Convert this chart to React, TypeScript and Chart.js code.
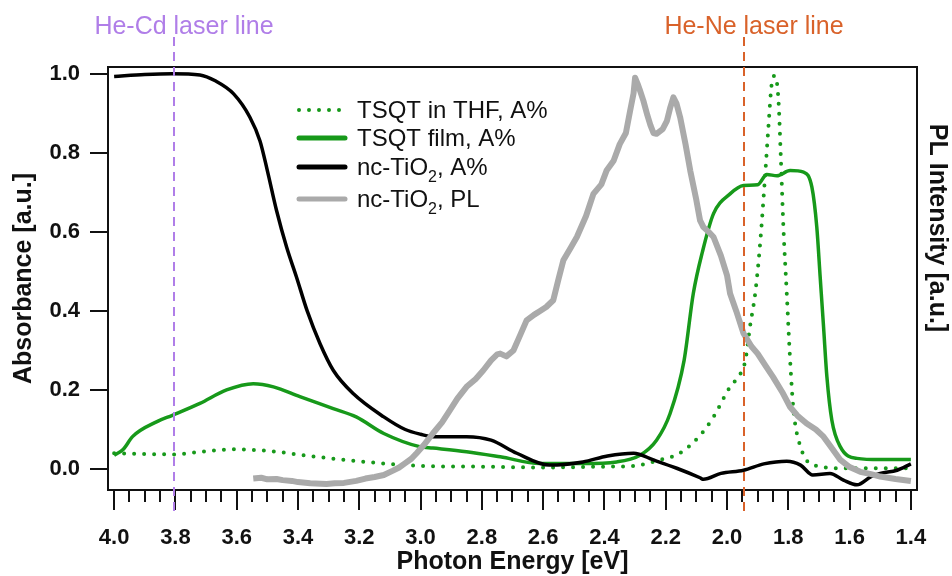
import { useEffect, useRef } from "react";
import { Chart, registerables } from "chart.js";

Chart.register(...registerables);

const FONT = "'Liberation Sans', Arial, Helvetica, sans-serif";

// Axis ticks
const xTickValues = [4.0, 3.8, 3.6, 3.4, 3.2, 3.0, 2.8, 2.6, 2.4, 2.2, 2.0, 1.8, 1.6, 1.4];
const yTickValues = [0.0, 0.2, 0.4, 0.6, 0.8, 1.0];

// Laser lines (eV)
const heCdLine = 3.805;
const heNeLine = 1.944;

// nc-TiO2 absorbance
const tio2AbsE = [4.0, 3.9, 3.81, 3.72, 3.67, 3.61, 3.557, 3.524, 3.5, 3.47, 3.437, 3.405, 3.37, 3.328, 3.285, 3.22, 3.12, 3.05, 3.0, 2.96, 2.85, 2.77, 2.686, 2.58, 2.47, 2.39, 2.305, 2.24, 2.164, 2.088, 2.077, 2.02, 1.946, 1.88, 1.805, 1.76, 1.72, 1.664, 1.62, 1.576, 1.53, 1.5, 1.445, 1.4];
const tio2AbsV = [0.993, 0.998, 1.0, 0.997, 0.982, 0.949, 0.89, 0.83, 0.755, 0.654, 0.561, 0.486, 0.4, 0.317, 0.25, 0.191, 0.132, 0.1, 0.088, 0.082, 0.082, 0.073, 0.04, 0.01, 0.018, 0.033, 0.04, 0.023, 0.002, -0.022, -0.026, -0.011, -0.003, 0.013, 0.02, 0.01, -0.015, -0.011, -0.028, -0.04, -0.019, -0.011, -0.003, 0.013];

// TSQT film absorbance
const filmE = [4.0, 3.97, 3.94, 3.86, 3.81, 3.72, 3.633, 3.546, 3.48, 3.394, 3.285, 3.21, 3.12, 3.0, 2.96, 2.85, 2.74, 2.61, 2.47, 2.36, 2.284, 2.23, 2.186, 2.14, 2.11, 2.08, 2.044, 1.99, 1.946, 1.9, 1.87, 1.837, 1.794, 1.75, 1.723, 1.707, 1.696, 1.685, 1.674, 1.658, 1.63, 1.576, 1.5, 1.4];
const filmV = [0.035, 0.05, 0.082, 0.12, 0.136, 0.166, 0.2, 0.216, 0.208, 0.183, 0.153, 0.132, 0.09, 0.056, 0.053, 0.044, 0.031, 0.014, 0.014, 0.018, 0.035, 0.073, 0.14, 0.275, 0.444, 0.55, 0.646, 0.696, 0.717, 0.719, 0.745, 0.742, 0.755, 0.751, 0.713, 0.612, 0.486, 0.36, 0.233, 0.124, 0.056, 0.027, 0.024, 0.024];

// TSQT in THF absorbance
const thfE = [4.0, 3.9, 3.81, 3.7, 3.61, 3.5, 3.34, 3.18, 3.0, 2.8, 2.6, 2.4, 2.305, 2.22, 2.154, 2.088, 2.044, 1.99, 1.957, 1.94, 1.925, 1.908, 1.892, 1.876, 1.865, 1.854, 1.843, 1.832, 1.824, 1.816, 1.805, 1.794, 1.783, 1.76, 1.718, 1.61, 1.4];
const thfV = [0.04, 0.038, 0.037, 0.045, 0.05, 0.046, 0.031, 0.018, 0.008, 0.006, 0.004, 0.006, 0.008, 0.023, 0.04, 0.085, 0.132, 0.208, 0.24, 0.275, 0.36, 0.444, 0.57, 0.738, 0.864, 0.975, 0.995, 0.932, 0.78, 0.612, 0.444, 0.275, 0.149, 0.056, 0.01, 0.002, 0.002];

// nc-TiO2 photoluminescence (noisy trace, read point by point)
const plE = [3.546, 3.52, 3.5, 3.47, 3.45, 3.42, 3.4, 3.36, 3.307, 3.28, 3.25, 3.21, 3.18, 3.15, 3.12, 3.09, 3.07, 3.05, 3.03, 3.013, 2.99, 2.96, 2.93, 2.904, 2.88, 2.85, 2.82, 2.795, 2.77, 2.75, 2.74, 2.72, 2.697, 2.68, 2.654, 2.63, 2.61, 2.59, 2.567, 2.55, 2.534, 2.51, 2.49, 2.46, 2.436, 2.41, 2.393, 2.37, 2.35, 2.33, 2.316, 2.305, 2.3, 2.292, 2.285, 2.273, 2.26, 2.25, 2.24, 2.23, 2.21, 2.196, 2.185, 2.175, 2.165, 2.153, 2.135, 2.12, 2.1, 2.088, 2.077, 2.06, 2.044, 2.02, 2.0, 1.99, 1.97, 1.946, 1.92, 1.9, 1.875, 1.85, 1.82, 1.794, 1.77, 1.74, 1.71, 1.685, 1.66, 1.63, 1.6, 1.565, 1.53, 1.5, 1.45, 1.4];
const plV = [-0.024, -0.022, -0.026, -0.025, -0.028, -0.03, -0.033, -0.036, -0.038, -0.036, -0.035, -0.03, -0.024, -0.02, -0.015, -0.004, 0.004, 0.015, 0.026, 0.04, 0.06, 0.09, 0.118, 0.149, 0.178, 0.208, 0.228, 0.25, 0.275, 0.29, 0.292, 0.285, 0.3, 0.33, 0.376, 0.39, 0.4, 0.41, 0.427, 0.48, 0.528, 0.56, 0.587, 0.64, 0.696, 0.72, 0.755, 0.78, 0.822, 0.85, 0.907, 0.95, 0.99, 0.975, 0.96, 0.932, 0.895, 0.87, 0.85, 0.848, 0.86, 0.881, 0.915, 0.94, 0.925, 0.89, 0.82, 0.755, 0.68, 0.629, 0.612, 0.6, 0.587, 0.54, 0.49, 0.444, 0.4, 0.343, 0.31, 0.292, 0.262, 0.233, 0.195, 0.157, 0.135, 0.115, 0.1, 0.082, 0.055, 0.023, 0.005, -0.007, -0.013, -0.019, -0.025, -0.03];

const GREEN = "#17991a";
const GRAY = "#aaaaaa";
const BLACK = "#000000";
const PURPLE = "#b07ee8";
const ORANGE = "#d9622a";

const pts = (xs: number[], ys: number[]) => xs.map((x, i) => ({ x, y: ys[i] }));

const decorPlugin = {
  id: "decor",
  afterDraw(chart: any) {
    const { ctx, chartArea, scales } = chart;
    const { left, right, top, bottom } = chartArea;
    const x = scales.x;
    const y = scales.y;
    ctx.save();

    // frame
    ctx.strokeStyle = "#111";
    ctx.lineWidth = 2;
    ctx.strokeRect(left, top, right - left, bottom - top);

    // x ticks (major every 0.2, minor every 0.05)
    ctx.beginPath();
    for (let i = 28; i <= 80; i++) {
      const px = Math.round(x.getPixelForValue(i / 20));
      const len = i % 4 === 0 ? 20 : 12;
      ctx.moveTo(px, bottom);
      ctx.lineTo(px, bottom + len);
    }
    // y ticks
    for (const v of yTickValues) {
      const py = Math.round(y.getPixelForValue(v));
      ctx.moveTo(left - 18, py);
      ctx.lineTo(left, py);
    }
    ctx.stroke();

    // laser lines
    const laser = (e: number, color: string, label: string) => {
      const px = Math.round(x.getPixelForValue(e));
      ctx.save();
      ctx.strokeStyle = color;
      ctx.lineWidth = 2;
      ctx.setLineDash([9, 6]);
      ctx.beginPath();
      ctx.moveTo(px, 37);
      ctx.lineTo(px, 514);
      ctx.stroke();
      ctx.restore();
      ctx.fillStyle = color;
      ctx.font = `25px ${FONT}`;
      ctx.textAlign = "center";
      ctx.textBaseline = "alphabetic";
      ctx.fillText(label, px + 10, 34);
    };
    laser(heCdLine, PURPLE, "He-Cd laser line");
    laser(heNeLine, ORANGE, "He-Ne laser line");

    // legend
    const lx0 = 297;
    const lx1 = 345;
    const tx = 357;
    const rows = [
      { yy: 110, color: GREEN, dotted: true, w: 4, main: "TSQT in THF, A%" },
      { yy: 138, color: GREEN, dotted: false, w: 5, main: "TSQT film, A%" },
      { yy: 167, color: BLACK, dotted: false, w: 5, pre: "nc-TiO", post: ", A%" },
      { yy: 199, color: GRAY, dotted: false, w: 5, pre: "nc-TiO", post: ", PL" },
    ];
    for (const r of rows as any[]) {
      ctx.save();
      ctx.strokeStyle = r.color;
      ctx.lineWidth = r.w;
      ctx.lineCap = "round";
      if (r.dotted) ctx.setLineDash([0, 10]);
      ctx.beginPath();
      ctx.moveTo(lx0 + 2, r.yy);
      ctx.lineTo(lx1, r.yy);
      ctx.stroke();
      ctx.restore();
      ctx.fillStyle = "#111";
      ctx.textAlign = "left";
      ctx.textBaseline = "alphabetic";
      ctx.font = `24px ${FONT}`;
      if (r.main) {
        ctx.fillText(r.main, tx, r.yy + 8);
      } else {
        ctx.fillText(r.pre, tx, r.yy + 8);
        let cx = tx + ctx.measureText(r.pre).width;
        ctx.font = `16px ${FONT}`;
        ctx.fillText("2", cx, r.yy + 15);
        cx += ctx.measureText("2").width;
        ctx.font = `24px ${FONT}`;
        ctx.fillText(r.post, cx, r.yy + 8);
      }
    }

    // axis titles
    ctx.fillStyle = "#111";
    ctx.font = `bold 25px ${FONT}`;
    ctx.textAlign = "center";
    ctx.textBaseline = "alphabetic";
    ctx.fillText("Photon Energy [eV]", (left + right) / 2, 569);

    ctx.textBaseline = "middle";
    ctx.save();
    ctx.translate(24, (top + bottom) / 2);
    ctx.rotate(-Math.PI / 2);
    ctx.fillText("Absorbance [a.u.]", 0, 0);
    ctx.restore();

    ctx.save();
    ctx.translate(937, 228);
    ctx.rotate(Math.PI / 2);
    ctx.fillText("PL Intensity [a.u.]", 0, 0);
    ctx.restore();

    ctx.restore();
  },
};

export default function App() {
  const canvasRef = useRef<HTMLCanvasElement | null>(null);

  useEffect(() => {
    if (!canvasRef.current) return;
    const tickFont = { family: FONT, size: 22, weight: "bold" as const };
    const chart = new Chart(canvasRef.current, {
      type: "line",
      data: {
        datasets: [
          {
            label: "TSQT in THF, A%",
            data: pts(thfE, thfV),
            borderColor: GREEN,
            borderWidth: 4,
            borderDash: [0, 10],
            borderCapStyle: "round",
            pointRadius: 0,
            cubicInterpolationMode: "monotone",
            order: 4,
          },
          {
            label: "TSQT film, A%",
            data: pts(filmE, filmV),
            borderColor: GREEN,
            borderWidth: 3.5,
            pointRadius: 0,
            cubicInterpolationMode: "monotone",
            order: 3,
          },
          {
            label: "nc-TiO2, A%",
            data: pts(tio2AbsE, tio2AbsV),
            borderColor: BLACK,
            borderWidth: 3.5,
            pointRadius: 0,
            cubicInterpolationMode: "monotone",
            order: 2,
          },
          {
            label: "nc-TiO2, PL",
            data: pts(plE, plV),
            borderColor: GRAY,
            borderWidth: 6,
            borderJoinStyle: "round",
            pointRadius: 0,
            tension: 0,
            order: 1,
          },
        ],
      },
      options: {
        animation: false,
        responsive: true,
        maintainAspectRatio: false,
        layout: { padding: { top: 67, left: 0, right: 0, bottom: 0 } },
        plugins: { legend: { display: false }, tooltip: { enabled: false } },
        scales: {
          x: {
            type: "linear",
            position: "bottom",
            reverse: true,
            min: 1.38,
            max: 4.02,
            afterBuildTicks: (s: any) => {
              s.ticks = xTickValues.map((v) => ({ value: v }));
            },
            afterFit: (s: any) => {
              s.height = 86;
              s.paddingLeft = 0;
              s.paddingRight = 0;
            },
            grid: { display: false, drawTicks: false },
            border: { display: false },
            ticks: {
              font: tickFont,
              color: "#111",
              padding: 35,
              maxRotation: 0,
              autoSkip: false,
              callback: (v: any) => Number(v).toFixed(1),
            },
          },
          y: {
            type: "linear",
            position: "left",
            min: -0.053,
            max: 1.017,
            afterBuildTicks: (s: any) => {
              s.ticks = yTickValues.map((v) => ({ value: v }));
            },
            afterFit: (s: any) => {
              s.width = 108;
              s.paddingTop = 0;
              s.paddingBottom = 0;
            },
            grid: { display: false, drawTicks: false },
            border: { display: false },
            ticks: {
              font: tickFont,
              color: "#111",
              padding: 28,
              callback: (v: any) => Number(v).toFixed(1),
            },
          },
          y2: {
            type: "linear",
            position: "right",
            min: 0,
            max: 1,
            afterFit: (s: any) => {
              s.width = 35;
              s.paddingTop = 0;
              s.paddingBottom = 0;
            },
            grid: { display: false, drawTicks: false },
            border: { display: false },
            ticks: { display: false },
          },
        },
      },
      plugins: [decorPlugin],
    });
    return () => chart.destroy();
  }, []);

  return (
    <div style={{ position: "absolute", left: 0, top: 0, width: 952, height: 576, background: "#fff" }}>
      <canvas ref={canvasRef} />
    </div>
  );
}
